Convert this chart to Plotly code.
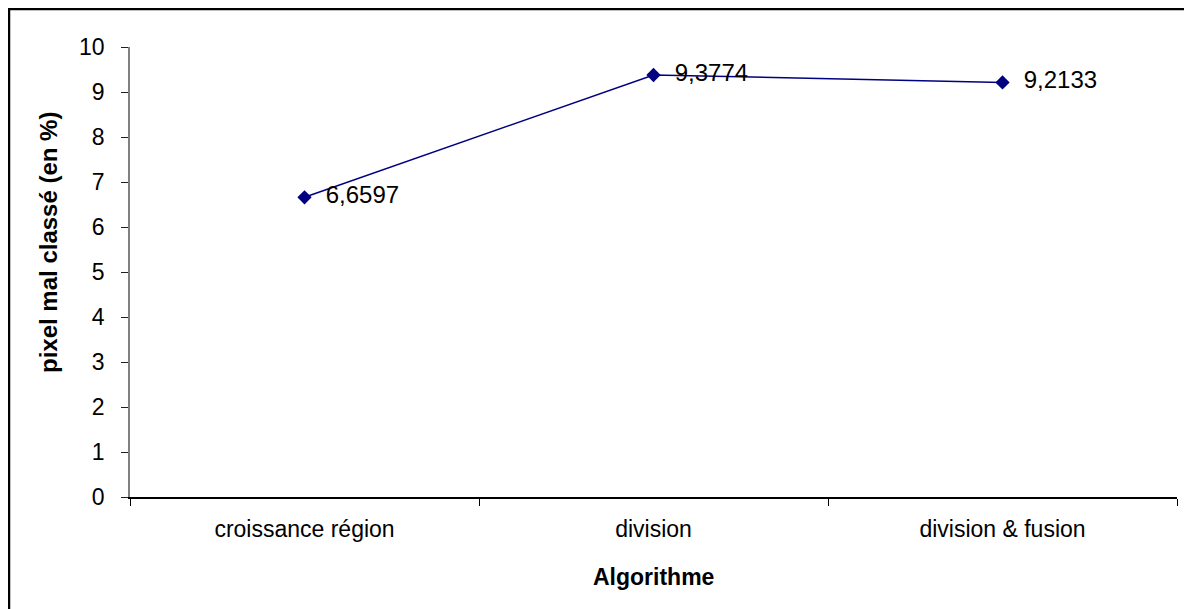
import plotly.graph_objects as go

categories = ["croissance région", "division", "division & fusion"]
values = [6.6597, 9.3774, 9.2133]
labels = ["6,6597", "9,3774", "9,2133"]
y_ticks = list(range(0, 11))

# page body has an 8px margin; figure occupies page px 8..1192 x 8..609
W, H = 1184, 601
ML, MR, MT, MB = 122, 15, 39, 112
pw, ph = W - ML - MR, H - MT - MB
OFF = 8

def px_x(x):
    return (x - OFF - ML) / pw

def px_y(y):
    return (H - MB - (y - OFF)) / ph

fig = go.Figure()
fig.add_trace(go.Scatter(
    x=categories, y=values, mode="lines+markers+text",
    text=labels, textposition="middle right",
    texttemplate="  %{text}",
    textfont=dict(family="Liberation Sans, Arial", size=24, color="black"),
    line=dict(color="#000080", width=1.5),
    marker=dict(symbol="diamond", size=11, color="#000080"),
    cliponaxis=False, showlegend=False,
))

fig.update_layout(
    width=W, height=H,
    margin=dict(l=ML, r=MR, t=MT, b=MB),
    paper_bgcolor="white", plot_bgcolor="white",
    font=dict(family="Liberation Sans, Arial", size=22, color="black"),
    xaxis=dict(
        type="category", range=[-0.5, 2.5], tickson="boundaries",
        showgrid=False, zeroline=False,
        showline=True, linecolor="black", linewidth=1.5,
        ticks="outside", ticklen=7, tickcolor="black", tickwidth=1,
        ticklabelstandoff=11,
        tickfont=dict(size=23),
    ),
    yaxis=dict(
        range=[0, 10], tickvals=y_ticks, ticktext=[str(v) for v in y_ticks],
        showgrid=False, zeroline=False,
        showline=True, linecolor="#808080", linewidth=1.5,
        ticks="outside", ticklen=7, tickcolor="#202020", tickwidth=1,
        ticklabelstandoff=12,
        tickfont=dict(size=23),
    ),
    annotations=[
        dict(text="<b>Algorithme</b>", xref="paper", yref="paper",
             x=0.5, y=px_y(577), xanchor="center", yanchor="middle",
             showarrow=False, font=dict(size=23)),
        dict(text="<b>pixel mal classé (en %)</b>", xref="paper", yref="paper",
             x=px_x(48), y=px_y(243), xanchor="center", yanchor="middle",
             textangle=-90, showarrow=False, font=dict(size=24)),
    ],
    shapes=[
        dict(type="rect", xref="paper", yref="paper",
             x0=px_x(9), y0=px_y(660), x1=px_x(1260), y1=px_y(9),
             line=dict(color="black", width=2.5), layer="below"),
    ],
)

fig.write_html("out.html")
